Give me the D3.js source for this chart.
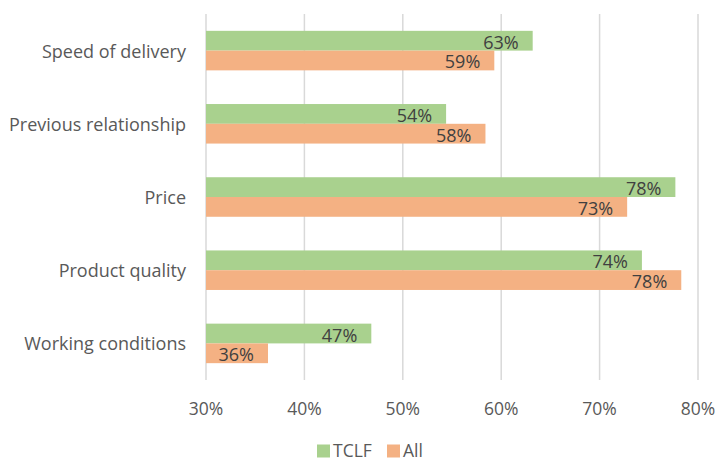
<!DOCTYPE html>
<html>
<head>
<meta charset="utf-8">
<script src="https://cdn.jsdelivr.net/npm/d3@7"></script>
<style>
  body { margin: 0; background: #fff; }
  text { font-family: "Open Sans", sans-serif; }
</style>
</head>
<body>
<div id="container"></div>
<script>
//Chart data
const categories = ["Speed of delivery", "Previous relationship", "Price", "Product quality", "Working conditions"];
const seriesNames = ["TCLF", "All"];
const tclfValues = [63.2, 54.4, 77.7, 74.3, 46.8];
const allValues = [59.3, 58.4, 72.8, 78.3, 36.3];
const tickValues = [30, 40, 50, 60, 70, 80];
const colors = ["#A9D18E", "#F4B183"];

//Dimensions
const width = 718;
const height = 462;
const margin = {top: 14, right: 20, bottom: 82, left: 206};

const svg = d3.select("#container")
    .append("svg")
    .attr("width", width)
    .attr("height", height);

//Scales
const x = d3.scaleLinear()
    .domain([30, 80])
    .range([margin.left, 698]);

const y = d3.scaleBand()
    .domain(categories)
    .range([margin.top, height - margin.bottom])
    .paddingInner(0.46)
    .paddingOuter(0.23);

const ySub = d3.scaleBand()
    .domain(seriesNames)
    .range([0, y.bandwidth()]);

const color = d3.scaleOrdinal(seriesNames, colors);

//Gridlines
svg.append("g")
    .selectAll("line")
    .data(tickValues)
    .join("line")
    .attr("x1", d => x(d))
    .attr("x2", d => x(d))
    .attr("y1", margin.top)
    .attr("y2", height - margin.bottom)
    .attr("stroke", "#D9D9D9")
    .attr("stroke-width", 1.5);

//Tick labels
svg.append("g")
    .selectAll("text")
    .data(tickValues)
    .join("text")
    .attr("x", d => x(d))
    .attr("y", 408)
    .attr("text-anchor", "middle")
    .attr("dominant-baseline", "central")
    .attr("fill", "#595959")
    .style("font-size", "17.5px")
    .text(d => d + "%");

//Category labels
svg.append("g")
    .selectAll("text")
    .data(categories)
    .join("text")
    .attr("x", margin.left - 20)
    .attr("y", d => y(d) + y.bandwidth() / 2)
    .attr("text-anchor", "end")
    .attr("dominant-baseline", "central")
    .attr("fill", "#595959")
    .style("font-size", "18px")
    .text(d => d);

//Bars
const rows = categories.map((c, i) => ({
    category: c,
    values: [
        {series: "TCLF", value: tclfValues[i]},
        {series: "All", value: allValues[i]}
    ]
}));

const group = svg.append("g")
    .selectAll("g")
    .data(rows)
    .join("g")
    .attr("transform", d => `translate(0, ${y(d.category)})`);

group.selectAll("rect")
    .data(d => d.values)
    .join("rect")
    .attr("x", x(30))
    .attr("y", d => ySub(d.series))
    .attr("width", d => x(d.value) - x(30))
    .attr("height", ySub.bandwidth())
    .attr("fill", d => color(d.series));

group.selectAll("text")
    .data(d => d.values)
    .join("text")
    .attr("x", d => x(d.value) - 14)
    .attr("y", d => ySub(d.series) + ySub.bandwidth() / 2 + 1)
    .attr("text-anchor", "end")
    .attr("dominant-baseline", "central")
    .attr("fill", "#404040")
    .style("font-size", "18px")
    .text(d => Math.round(d.value) + "%");

//Legend
const legendX = [317, 387];
const legend = svg.append("g")
    .selectAll("g")
    .data(seriesNames)
    .join("g")
    .attr("transform", (d, i) => `translate(${legendX[i]}, 451)`);

legend.append("rect")
    .attr("x", 0)
    .attr("y", -6.5)
    .attr("width", 13)
    .attr("height", 13)
    .attr("fill", d => color(d));

legend.append("text")
    .attr("x", 16)
    .attr("y", 6)
    .attr("fill", "#595959")
    .style("font-size", "17.5px")
    .text(d => d);
</script>
</body>
</html>
